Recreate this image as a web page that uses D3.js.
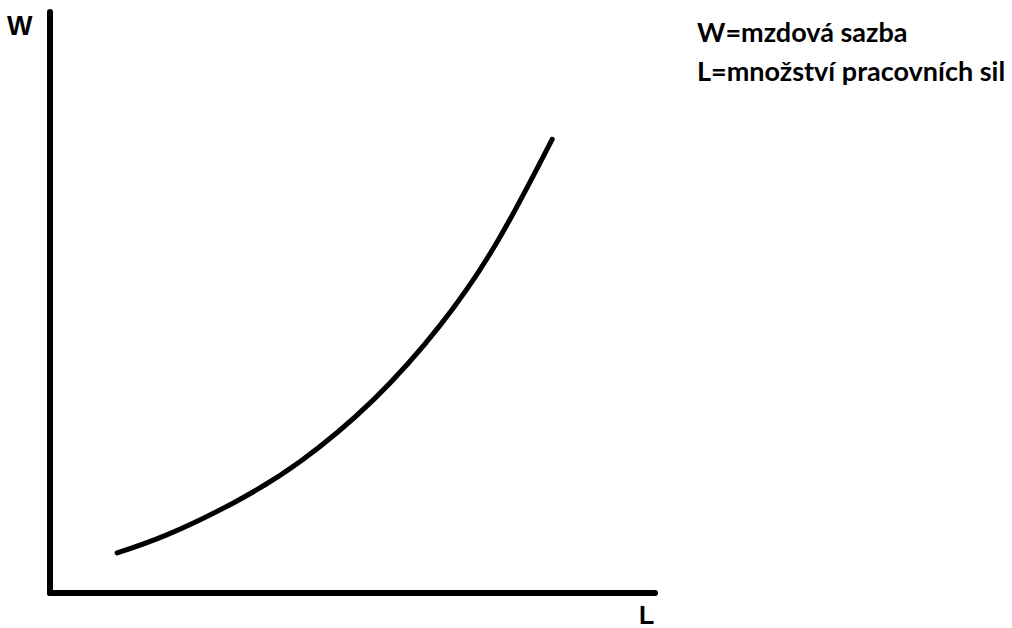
<!doctype html>
<html>
<head>
<meta charset="utf-8">
<script src="https://cdn.jsdelivr.net/npm/d3@7"></script>
<style>
body { margin: 0; background: #fff; }
svg { display: block; }
.lbl { font-family: "Liberation Sans", Arial, sans-serif; font-weight: bold; fill: #000; }
.note { font-family: Lato, "Open Sans", sans-serif; font-weight: bold; fill: #000; }
</style>
</head>
<body>
<script>
// supply curve (L = labour quantity, W = wage)
var curveL = [11.1, 19.3, 30.3, 41.3, 53.4, 64.5, 73.9, 83.0];
var curveW = [6.9, 10.0, 15.5, 22.6, 33.2, 46.1, 60.4, 78.1];
var notes = ["W=mzdová sazba", "L=množství pracovních sil"];

var width = 1012, height = 628;
var margin = {top: 12, right: 357, bottom: 35, left: 50};

var x = d3.scaleLinear().domain([0, 100]).range([margin.left, width - margin.right]);
var y = d3.scaleLinear().domain([0, 100]).range([height - margin.bottom, margin.top]);

var svg = d3.select("body").append("svg")
    .attr("width", width)
    .attr("height", height);

// axes drawn as plain thick lines
svg.append("line")
    .attr("x1", x(0)).attr("y1", y(0))
    .attr("x2", x(0)).attr("y2", y(100))
    .attr("stroke", "#000").attr("stroke-width", 6).attr("stroke-linecap", "round");
svg.append("line")
    .attr("x1", x(0)).attr("y1", y(0))
    .attr("x2", x(100)).attr("y2", y(0))
    .attr("stroke", "#000").attr("stroke-width", 6).attr("stroke-linecap", "round");

var data = curveL.map(function(d, i) { return {l: d, w: curveW[i]}; });

var line = d3.line()
    .x(function(d) { return x(d.l); })
    .y(function(d) { return y(d.w); })
    .curve(d3.curveNatural);

svg.append("path")
    .datum(data)
    .attr("d", line)
    .attr("fill", "none")
    .attr("stroke", "#000")
    .attr("stroke-width", 5)
    .attr("stroke-linecap", "round");

// axis letters
svg.append("text").attr("class", "lbl")
    .attr("x", 7).attr("y", 35)
    .style("font-size", "27px")
    .text("W");
svg.append("text").attr("class", "lbl")
    .attr("x", 639).attr("y", 624)
    .style("font-size", "25px")
    .text("L");

// legend text top right
svg.selectAll(".note")
    .data(notes)
  .enter().append("text")
    .attr("class", "note")
    .attr("x", 697)
    .attr("y", function(d, i) { return 42 + i * 39; })
    .style("font-size", "27px")
    .text(function(d) { return d; });
</script>
</body>
</html>
